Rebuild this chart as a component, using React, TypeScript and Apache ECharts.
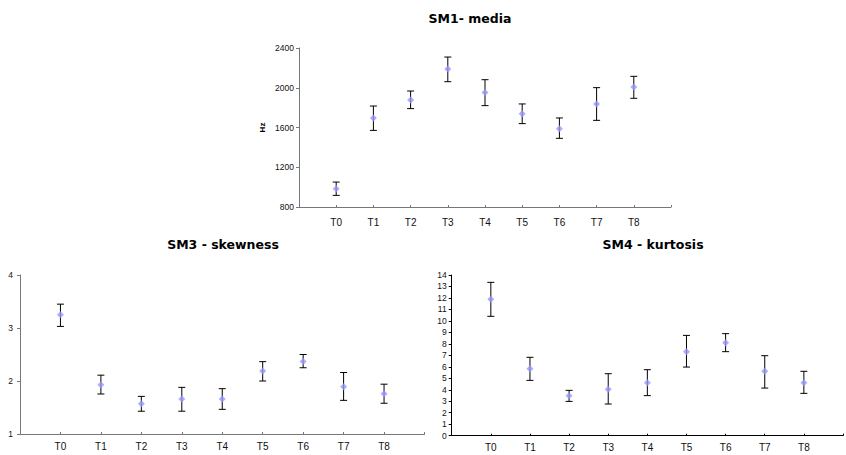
import React, { useEffect, useRef } from "react";
import * as echarts from "echarts";

const categories = ["T0", "T1", "T2", "T3", "T4", "T5", "T6", "T7", "T8"];
const axisCategories = ["", ...categories, ""];

const sm1Mean = [984, 1696, 1877, 2189, 1951, 1739, 1588, 1837, 2008];
const sm1Low = [917, 1571, 1790, 2061, 1820, 1639, 1491, 1672, 1894];
const sm1High = [1051, 1816, 1967, 2309, 2081, 1837, 1696, 2001, 2115];

const sm3Mean = [3.25, 1.93, 1.57, 1.66, 1.66, 2.19, 2.37, 1.89, 1.76];
const sm3Low = [3.03, 1.755, 1.43, 1.43, 1.465, 2.0, 2.25, 1.635, 1.58];
const sm3High = [3.45, 2.11, 1.71, 1.88, 1.855, 2.365, 2.5, 2.16, 1.94];

const sm4Mean = [11.88, 5.84, 3.49, 4.04, 4.62, 7.32, 8.1, 5.61, 4.62];
const sm4Low = [10.4, 4.82, 2.99, 2.76, 3.49, 5.98, 7.32, 4.15, 3.69];
const sm4High = [13.36, 6.83, 3.95, 5.4, 5.75, 8.74, 8.89, 6.97, 5.61];

const titles = ["SM1- media", "SM3 - skewness", "SM4 - kurtosis"];

const MARKER = "#9999ff";
const FONT = "Liberation Sans, Arial, sans-serif";

function errorSeries(idx: number, low: number[], high: number[]) {
  return {
    type: "custom",
    xAxisIndex: idx,
    yAxisIndex: idx,
    silent: true,
    data: categories.map((_, i) => [i + 1, low[i], high[i]]),
    renderItem: (params: any, api: any) => {
      const x = api.value(0);
      const lo = api.coord([x, api.value(1)]);
      const hi = api.coord([x, api.value(2)]);
      const cap = 3.5;
      const style = { stroke: "#000", lineWidth: 1 };
      return {
        type: "group",
        children: [
          { type: "line", shape: { x1: lo[0], y1: lo[1], x2: hi[0], y2: hi[1] }, style },
          { type: "line", shape: { x1: lo[0] - cap, y1: lo[1], x2: lo[0] + cap, y2: lo[1] }, style },
          { type: "line", shape: { x1: hi[0] - cap, y1: hi[1], x2: hi[0] + cap, y2: hi[1] }, style },
        ],
      };
    },
    z: 2,
  };
}

function meanSeries(idx: number, mean: number[]) {
  return {
    type: "scatter",
    xAxisIndex: idx,
    yAxisIndex: idx,
    symbol: "diamond",
    symbolSize: 7,
    itemStyle: { color: MARKER },
    data: categories.map((_, i) => [i + 1, mean[i]]),
    z: 3,
  };
}

function xAxis(idx: number, color: string, margin: number) {
  return {
    type: "category",
    gridIndex: idx,
    data: axisCategories,
    boundaryGap: false,
    axisLine: { lineStyle: { color, width: 1 } },
    axisTick: { inside: true, length: 2, interval: 0, lineStyle: { color } },
    axisLabel: { interval: 0, fontSize: 10, color: "#111", fontFamily: FONT, margin },
    splitLine: { show: false },
  };
}

function yAxis(idx: number, min: number, max: number, interval: number, color: string, margin: number) {
  return {
    type: "value",
    gridIndex: idx,
    min,
    max,
    interval,
    axisLine: { show: true, lineStyle: { color, width: 1 } },
    axisTick: { show: true, length: 3, lineStyle: { color } },
    axisLabel: {
      fontSize: 8.5,
      color: "#111",
      fontFamily: FONT,
      margin,
      formatter: (v: number) => String(v),
    },
    splitLine: { show: false },
  };
}

export default function App() {
  const ref = useRef<HTMLDivElement>(null);
  useEffect(() => {
    document.body.style.margin = "0";
    const chart = echarts.init(ref.current!, null, { renderer: "svg" });
    const titleStyle = {
      fontFamily: "DejaVu Sans, sans-serif",
      fontWeight: "bold" as const,
      fontSize: 12.5,
      color: "#000",
    };
    chart.setOption({
      animation: false,
      backgroundColor: "#fff",
      title: [
        { text: titles[0], left: 465, top: 7, textAlign: "center", textStyle: titleStyle },
        { text: titles[1], left: 218, top: 233, textAlign: "center", textStyle: titleStyle },
        { text: titles[2], left: 648, top: 233, textAlign: "center", textStyle: titleStyle },
      ],
      grid: [
        { left: 299, top: 48, width: 372, height: 159 },
        { left: 20, top: 275, width: 404.5, height: 159 },
        { left: 451.7, top: 275, width: 404, height: 160.7 },
      ],
      xAxis: [xAxis(0, "#777", 10), xAxis(1, "#777", 7), xAxis(2, "#000", 7)],
      yAxis: [
        {
          ...yAxis(0, 800, 2400, 400, "#777", 5),
          name: "Hz",
          nameLocation: "middle",
          nameRotate: 90,
          nameGap: 33,
          nameTextStyle: { fontSize: 8, fontWeight: "bold", fontFamily: FONT, color: "#000" },
        },
        yAxis(1, 1, 4, 1, "#777", 7),
        yAxis(2, 0, 14, 1, "#000", 5),
      ],
      series: [
        errorSeries(0, sm1Low, sm1High),
        meanSeries(0, sm1Mean),
        errorSeries(1, sm3Low, sm3High),
        meanSeries(1, sm3Mean),
        errorSeries(2, sm4Low, sm4High),
        meanSeries(2, sm4Mean),
      ],
    });
    return () => chart.dispose();
  }, []);
  return <div ref={ref} style={{ width: 846, height: 455 }} />;
}
